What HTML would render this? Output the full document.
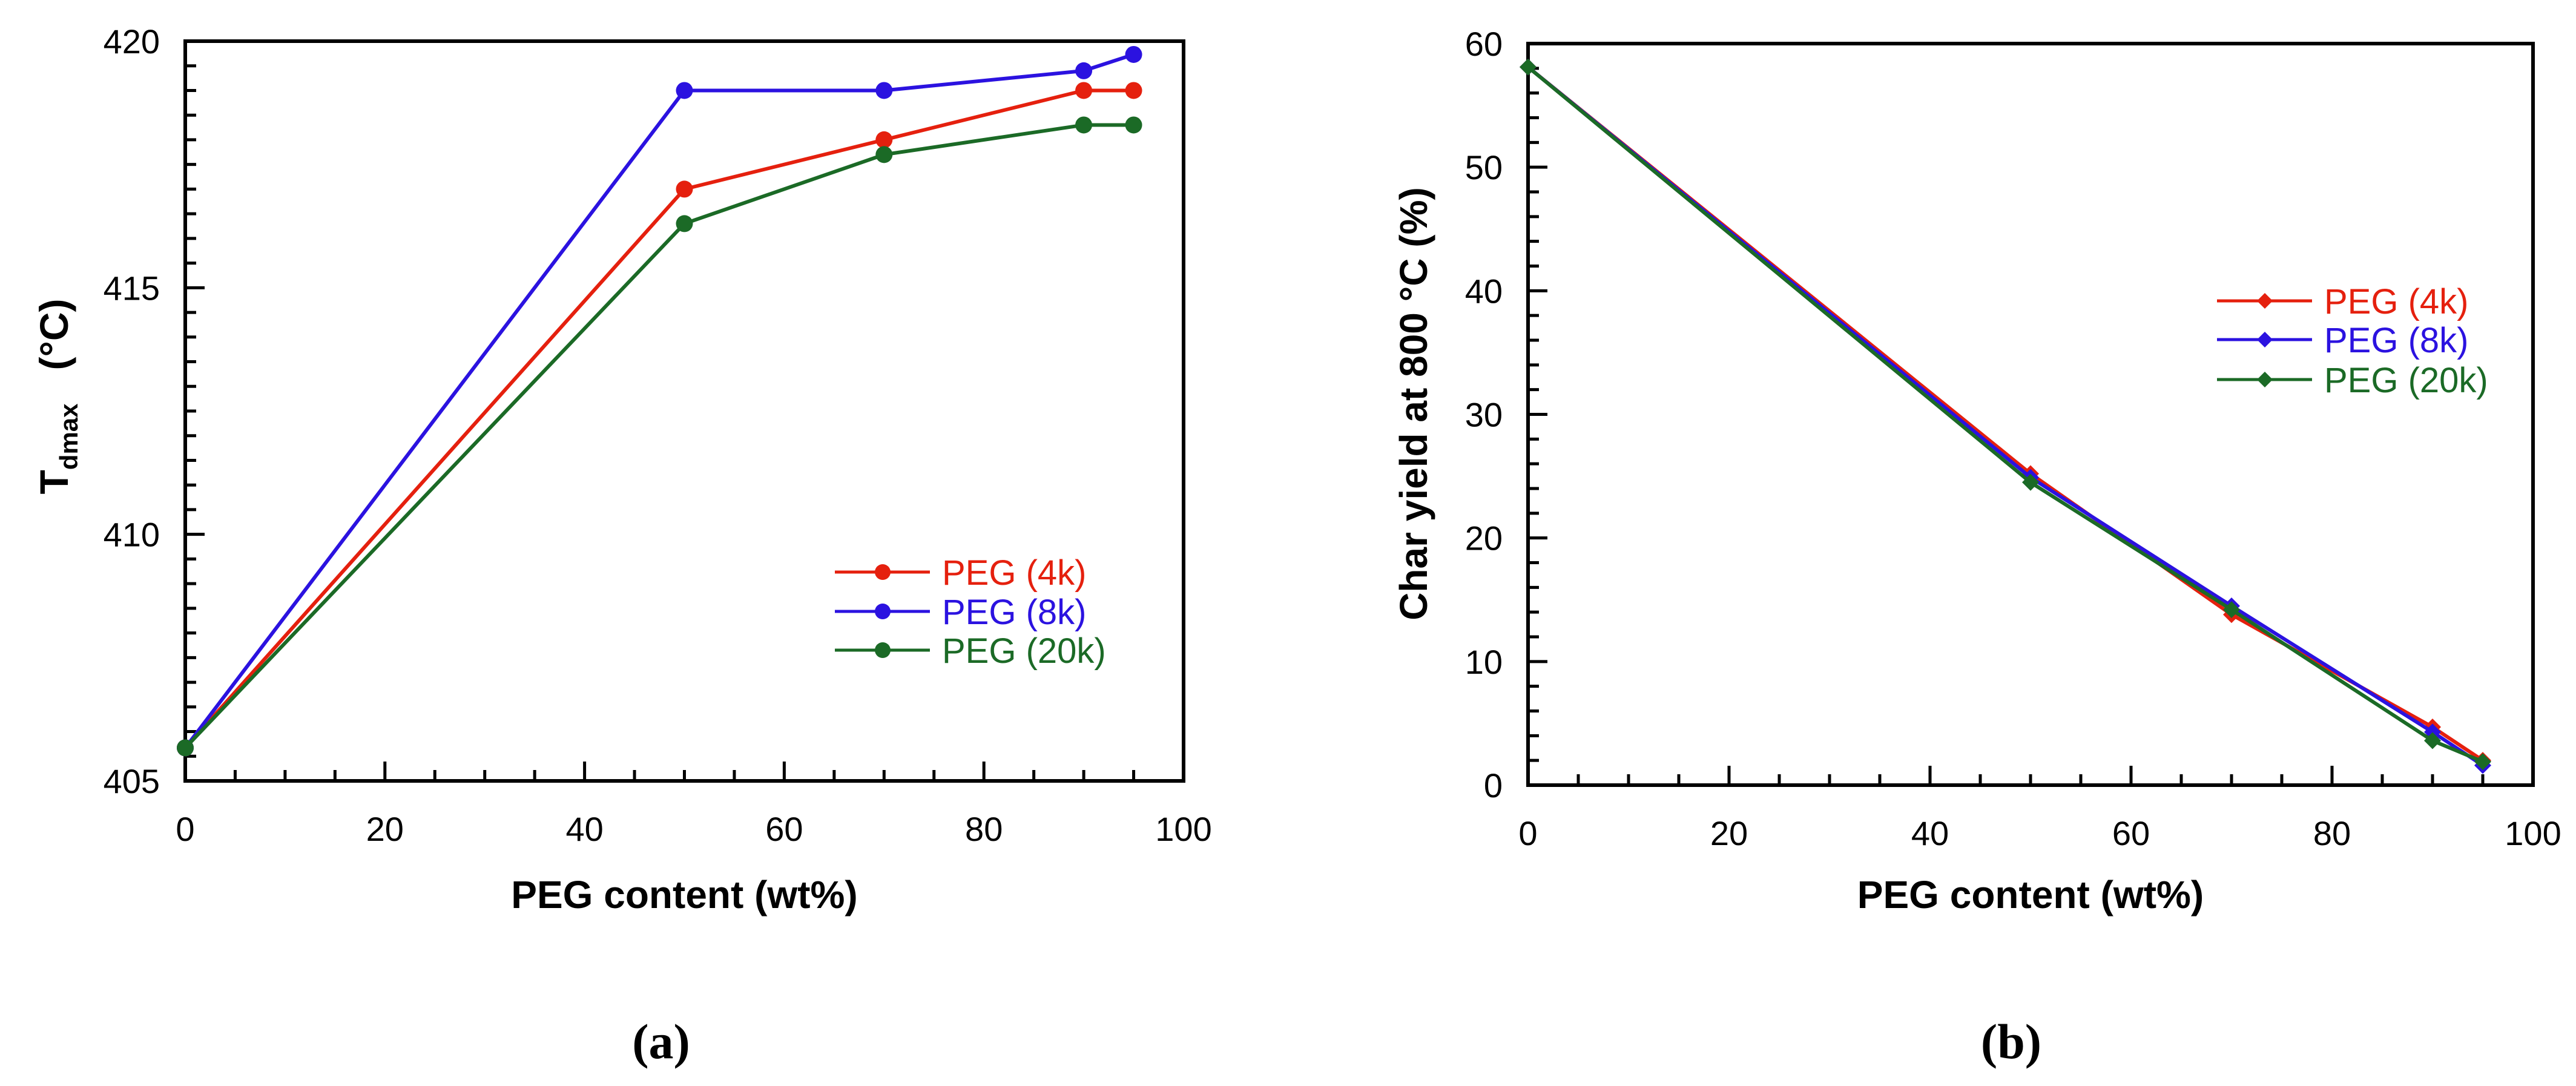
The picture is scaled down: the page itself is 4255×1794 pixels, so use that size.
<!DOCTYPE html>
<html><head><meta charset="utf-8"><style>
html,body{margin:0;padding:0;background:#fff;}
svg{display:block;}
text{font-family:"Liberation Sans",Arial,sans-serif;}
</style></head>
<body>
<svg id="fig" width="4255" height="1794" viewBox="0 0 4255 1794" xmlns="http://www.w3.org/2000/svg">
<rect width="4255" height="1794" fill="#fff"/>
</svg>
<script>
const xCats = [0, 50, 70, 90, 95];
const aRed = [405.67, 417.0, 418.0, 419.0, 419.0];
const aBlue = [405.67, 419.0, 419.0, 419.4, 419.73];
const aGreen = [405.67, 416.3, 417.7, 418.3, 418.3];
const bRed = [58.1, 25.2, 13.8, 4.7, 2.0];
const bBlue = [58.1, 24.9, 14.5, 4.3, 1.6];
const bGreen = [58.1, 24.5, 14.2, 3.6, 1.9];
const xTicks = [0, 20, 40, 60, 80, 100];
const aYTicks = [405, 410, 415, 420];
const bYTicks = [0, 10, 20, 30, 40, 50, 60];
const seriesNames = ['PEG (4k)', 'PEG (8k)', 'PEG (20k)'];
const colors = ['#e5200e', '#2b12e0', '#1b6a26'];

const NS = 'http://www.w3.org/2000/svg';
const svg = document.getElementById('fig');
function mk(tag, attrs, parent) {
  const e = document.createElementNS(NS, tag);
  for (const k in attrs) e.setAttribute(k, attrs[k]);
  (parent || svg).appendChild(e);
  return e;
}

function panel(cfg) {
  const g = mk('g', {});
  
  
  const {L, R, T, B, ymin, ymax, xmin, xmax} = cfg;
  const sx = v => L + (v - xmin) / (xmax - xmin) * (R - L);
  const sy = v => B - (v - ymin) / (ymax - ymin) * (B - T);
  for (let v = xmin; v <= xmax; v += 5) {
    const major = v % 20 === 0;
    const t = mk('line', {x1: sx(v), x2: sx(v), y1: B, y2: B - (major ? 32 : 18), stroke: '#000', 'stroke-width': 5}, g);
    
    
  }
  for (let v = ymin; v <= ymax + 1e-9; v += cfg.minor) {
    const major = Math.abs(((v - ymin) / cfg.major) - Math.round((v - ymin) / cfg.major)) < 1e-6;
    const t = mk('line', {x1: L, x2: L + (major ? 32 : 18), y1: sy(v), y2: sy(v), stroke: '#000', 'stroke-width': 5}, g);
    
    
  }
  const frame = mk('rect', {x: L, y: T, width: R - L, height: B - T, fill: 'none', stroke: '#000', 'stroke-width': 6}, g);
  
  
  xTicks.forEach(v => {
    const t = mk('text', {x: sx(v), y: B + 99, 'font-size': 56, 'text-anchor': 'middle', fill: '#000'}, g);
    t.textContent = v;
    
    
  });
  cfg.yTicks.forEach(v => {
    const t = mk('text', {x: L - 42, y: sy(v) + 20, 'font-size': 56, 'text-anchor': 'end', fill: '#000'}, g);
    t.textContent = v;
    
    
  });
  cfg.series.forEach((vals, si) => {
    const pts = xCats.map((x, i) => sx(x) + ',' + sy(vals[i])).join(' ');
    const pl = mk('polyline', {points: pts, fill: 'none', stroke: colors[si], 'stroke-width': 6, 'stroke-linejoin': 'round'}, g);
    
    
    xCats.forEach((x, i) => {
      const cx = sx(x), cy = sy(vals[i]);
      let m;
      if (cfg.marker === 'circle') m = mk('circle', {cx: cx, cy: cy, r: 14, fill: colors[si]}, g);
      else m = mk('polygon', {points: `${cx},${cy - 14} ${cx + 14},${cy} ${cx},${cy + 14} ${cx - 14},${cy}`, fill: colors[si]}, g);
      
      
    });
  });
  seriesNames.forEach((n, i) => {
    const y = cfg.legY[i];
    const ln = mk('line', {x1: cfg.legX, x2: cfg.legX + 157, y1: y, y2: y, stroke: colors[i], 'stroke-width': 5}, g);
    
    
    const mx = cfg.legX + 79;
    let m;
    if (cfg.marker === 'circle') m = mk('circle', {cx: mx, cy: y, r: 13, fill: colors[i]}, g);
    else m = mk('polygon', {points: `${mx},${y - 13} ${mx + 13},${y} ${mx},${y + 13} ${mx - 13},${y}`, fill: colors[i]}, g);
    
    
    const t = mk('text', {x: cfg.legX + 177, y: y + 21, 'font-size': 58, fill: colors[i]}, g);
    t.textContent = n;
    
    
  });
  const xt = mk('text', {x: (L + R) / 2, y: 1500, 'font-size': 64, 'font-weight': 'bold', 'text-anchor': 'middle'}, g);
  xt.textContent = 'PEG content (wt%)';
  
  
  const pl = mk('text', {x: cfg.labX, y: 1748, 'font-size': 82, 'font-weight': 'bold', 'text-anchor': 'middle', style: 'font-family:"Liberation Serif",serif'}, g);
  pl.textContent = cfg.label;
  
  
  return g;
}

panel({name: 'panel-a', L: 306, R: 1955, T: 68, B: 1290, xmin: 0, xmax: 100, ymin: 405, ymax: 420,
  minor: 0.5, major: 5, yTicks: aYTicks, series: [aRed, aBlue, aGreen], marker: 'circle',
  legX: 1379, legY: [945, 1010, 1074], labX: 1092, label: '(a)'});
panel({name: 'panel-b', L: 2524, R: 4184, T: 72, B: 1297, xmin: 0, xmax: 100, ymin: 0, ymax: 60,
  minor: 2, major: 10, yTicks: bYTicks, series: [bRed, bBlue, bGreen], marker: 'diamond',
  legX: 3662, legY: [497, 561, 627], labX: 3322, label: '(b)'});

const ya = mk('text', {transform: 'translate(112,655) rotate(-90)', 'font-size': 66, 'font-weight': 'bold', 'text-anchor': 'middle'});
ya.innerHTML = 'T<tspan font-size="42" dy="16">dmax</tspan><tspan dy="-16" xml:space="preserve">   (°C)</tspan>';


const yb = mk('text', {transform: 'translate(2357,667) rotate(-90)', 'font-size': 64, 'font-weight': 'bold', 'text-anchor': 'middle'});
yb.textContent = 'Char yield at 800 °C (%)';


</script>
</body></html>
